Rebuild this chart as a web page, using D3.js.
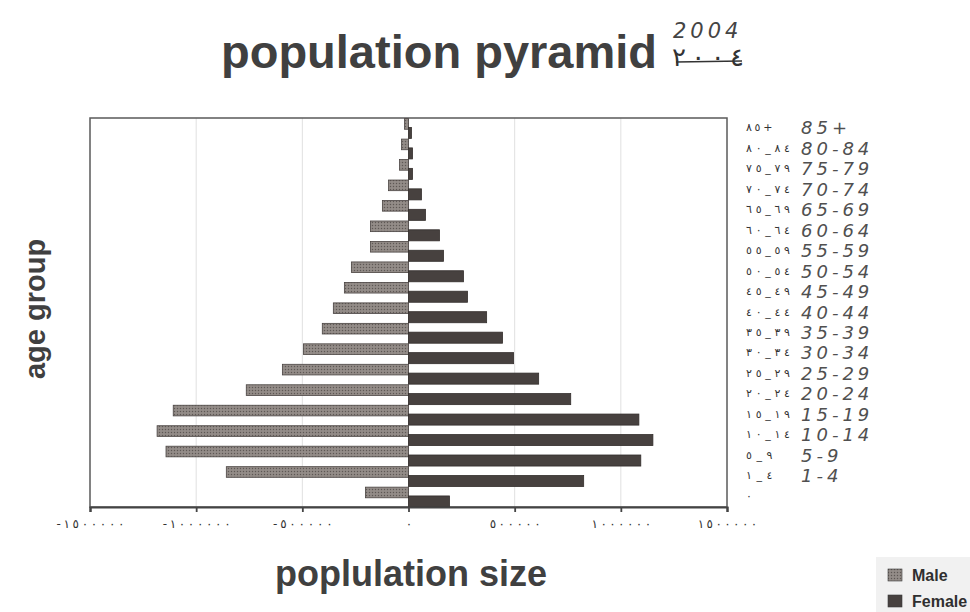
<!DOCTYPE html>
<html>
<head>
<meta charset="utf-8">
<script src="https://cdn.jsdelivr.net/npm/d3@7"></script>
<style>
  body { margin: 0; background: #fff; }
  svg text { font-family: "Liberation Sans", Arial, sans-serif; }
</style>
</head>
<body>
<div id="chart-container"></div>
<script>
// Age groups, bottom to top
const ageGroups = ["0", "1-4", "5-9", "10-14", "15-19", "20-24", "25-29", "30-34", "35-39",
  "40-44", "45-49", "50-54", "55-59", "60-64", "65-69", "70-74", "75-79", "80-84", "85+"];
const ageLabelsAr = ["٠", "١_٤", "٥_٩", "١٠_١٤", "١٥_١٩", "٢٠_٢٤", "٢٥_٢٩", "٣٠_٣٤", "٣٥_٣٩",
  "٤٠_٤٤", "٤٥_٤٩", "٥٠_٥٤", "٥٥_٥٩", "٦٠_٦٤", "٦٥_٦٩", "٧٠_٧٤", "٧٥_٧٩", "٨٠_٨٤", "٨٥+"];
const ageLabelsHand = ["", "1-4", "5-9", "10-14", "15-19", "20-24", "25-29", "30-34", "35-39",
  "40-44", "45-49", "50-54", "55-59", "60-64", "65-69", "70-74", "75-79", "80-84", "85+"];

// Population, 2004
const male = [203000, 858000, 1142000, 1184000, 1108000, 764000, 594000, 495000, 406000,
  354000, 302000, 269000, 179000, 179000, 123000, 94000, 42000, 33000, 19000];
const female = [193000, 825000, 1094000, 1151000, 1085000, 764000, 613000, 495000, 443000,
  368000, 278000, 259000, 165000, 146000, 80000, 61000, 19000, 19000, 14000];

const xTicks = [-1500000, -1000000, -500000, 0, 500000, 1000000, 1500000];
const xTickLabels = ["-١٥٠٠٠٠٠", "-١٠٠٠٠٠٠", "-٥٠٠٠٠٠", "٠", "٥٠٠٠٠٠", "١٠٠٠٠٠٠", "١٥٠٠٠٠٠"];

const W = 970, H = 612;
const plot = { left: 90, right: 727, top: 118, bottom: 507 };

const svg = d3.select("#chart-container")
  .append("svg")
  .attr("width", W)
  .attr("height", H);

svg.append("rect").attr("width", W).attr("height", H).attr("fill", "#fff");

// stipple pattern for male bars
const defs = svg.append("defs");
const pat = defs.append("pattern")
  .attr("id", "stipple")
  .attr("width", 3).attr("height", 3)
  .attr("patternUnits", "userSpaceOnUse");
pat.append("rect").attr("width", 3).attr("height", 3).attr("fill", "#8c8581");
pat.append("rect").attr("width", 1).attr("height", 1).attr("fill", "#5e5855");
pat.append("rect").attr("x", 1.5).attr("y", 1.5).attr("width", 1).attr("height", 1).attr("fill", "#a9a29e");

const xScale = d3.scaleLinear()
  .domain([-1500000, 1500000])
  .range([plot.left, plot.right]);

const yScale = d3.scaleBand()
  .domain(ageGroups)
  .range([plot.bottom, plot.top]);

const band = yScale.bandwidth();

// arabic digits ignore letter-spacing, so spread them with textLength
function spreadArabic(sel, perChar) {
  sel.each(function() {
    const t = d3.select(this);
    const n = [...t.text()].length;
    if (n > 1) t.attr("textLength", n * perChar).attr("lengthAdjust", "spacing");
  });
}

// gridlines
svg.append("g")
  .selectAll("line")
  .data(xTicks.filter(d => Math.abs(d) < 1500000))
  .enter()
  .append("line")
  .attr("x1", d => xScale(d))
  .attr("x2", d => xScale(d))
  .attr("y1", plot.top)
  .attr("y2", plot.bottom)
  .attr("stroke", d => d === 0 ? "#bbb" : "#e0e0e0")
  .attr("stroke-width", 1);

// frame
svg.append("rect")
  .attr("x", plot.left)
  .attr("y", plot.top)
  .attr("width", plot.right - plot.left)
  .attr("height", plot.bottom - plot.top)
  .attr("fill", "none")
  .attr("stroke", "#5a5a5a")
  .attr("stroke-width", 1.5);

// male bars (left)
svg.append("g")
  .selectAll("rect")
  .data(male)
  .enter()
  .append("rect")
  .attr("x", d => xScale(-d))
  .attr("y", (d, i) => yScale(ageGroups[i]) + band * 0.03)
  .attr("width", d => xScale(0) - xScale(-d))
  .attr("height", band * 0.52)
  .attr("fill", "url(#stipple)")
  .attr("stroke", "#4a4442")
  .attr("stroke-width", 0.8);

// female bars (right)
svg.append("g")
  .selectAll("rect")
  .data(female)
  .enter()
  .append("rect")
  .attr("x", xScale(0))
  .attr("y", (d, i) => yScale(ageGroups[i]) + band * 0.46)
  .attr("width", d => xScale(d) - xScale(0))
  .attr("height", band * 0.54)
  .attr("fill", "#47413f")
  .attr("stroke", "#332e2c")
  .attr("stroke-width", 0.8);

// x axis
const xAxis = d3.axisBottom(xScale)
  .tickValues(xTicks)
  .tickSize(5)
  .tickFormat((d, i) => xTickLabels[i]);

const gx = svg.append("g")
  .attr("transform", `translate(0,${plot.bottom})`)
  .call(xAxis);
gx.select(".domain").attr("stroke", "#444").attr("stroke-width", 2.2);
gx.selectAll(".tick line").attr("stroke", "#444").attr("stroke-width", 1.8);
gx.selectAll(".tick text")
  .attr("y", 12)
  .attr("fill", "#333")
  .style("font-family", "'DejaVu Sans', sans-serif")
  .style("font-size", "12px")
  .style("direction", "ltr")
  .style("unicode-bidi", "bidi-override")
  .call(spreadArabic, 8.5);

// right-hand age labels (arabic)
svg.append("g")
  .selectAll("text")
  .data(ageLabelsAr)
  .enter()
  .append("text")
  .attr("x", 746)
  .attr("y", (d, i) => yScale(ageGroups[i]) + band / 2 + 3)
  .attr("fill", "#333")
  .style("font-family", "'DejaVu Sans', sans-serif")
  .style("font-size", "11px")
  .style("direction", "ltr")
  .style("unicode-bidi", "bidi-override")
  .text(d => d)
  .call(spreadArabic, 8.8);

// handwritten english labels
svg.append("g")
  .selectAll("text")
  .data(ageLabelsHand)
  .enter()
  .append("text")
  .attr("x", 801)
  .attr("y", (d, i) => yScale(ageGroups[i]) + band / 2 + 6)
  .attr("fill", "#505050")
  .style("font-family", "'DejaVu Sans', sans-serif")
  .style("font-weight", 300)
  .style("font-style", "italic")
  .style("font-size", "18px")
  .style("letter-spacing", "4px")
  .text(d => d);

// title
svg.append("text")
  .attr("x", 439)
  .attr("y", 68)
  .attr("text-anchor", "middle")
  .attr("fill", "#404040")
  .style("font-size", "47px")
  .style("font-weight", "bold")
  .text("population pyramid");

// year, handwritten in arabic and latin digits
svg.append("text")
  .attr("x", 672)
  .attr("y", 66)
  .attr("fill", "#333")
  .style("font-family", "'DejaVu Sans', sans-serif")
  .style("font-size", "26px")
  .style("direction", "ltr")
  .style("unicode-bidi", "bidi-override")
  .attr("textLength", 72)
  .attr("lengthAdjust", "spacing")
  .text("٢٠٠٤");
svg.append("line")
  .attr("x1", 676).attr("x2", 742)
  .attr("y1", 62).attr("y2", 61)
  .attr("stroke", "#333")
  .attr("stroke-width", 1.4);

svg.append("text")
  .attr("x", 673)
  .attr("y", 38)
  .attr("fill", "#444")
  .style("font-family", "'DejaVu Sans', sans-serif")
  .style("font-weight", 300)
  .style("font-style", "italic")
  .style("font-size", "21px")
  .style("letter-spacing", "4px")
  .text("2004");

// axis titles
svg.append("text")
  .attr("transform", "rotate(-90)")
  .attr("x", -309)
  .attr("y", 45)
  .attr("text-anchor", "middle")
  .attr("fill", "#404040")
  .style("font-size", "29px")
  .style("font-weight", "bold")
  .text("age group");

svg.append("text")
  .attr("x", 411)
  .attr("y", 586)
  .attr("text-anchor", "middle")
  .attr("fill", "#404040")
  .style("font-size", "36px")
  .style("font-weight", "bold")
  .text("poplulation size");

// legend
const legend = svg.append("g").attr("transform", "translate(876,557)");
legend.append("rect")
  .attr("width", 100)
  .attr("height", 58)
  .attr("fill", "#f1f1f1");

const legendItems = [
  { name: "Male", fill: "url(#stipple)" },
  { name: "Female", fill: "#47413f" }
];
legendItems.forEach((item, i) => {
  const row = legend.append("g").attr("transform", `translate(12, ${12 + i * 26})`);
  row.append("rect")
    .attr("width", 14)
    .attr("height", 12)
    .attr("fill", item.fill)
    .attr("stroke", "#3a3a3a")
    .attr("stroke-width", 0.6);
  row.append("text")
    .attr("x", 24)
    .attr("y", 12)
    .attr("fill", "#2f2f2f")
    .style("font-size", "16px")
    .style("font-weight", "bold")
    .text(item.name);
});
</script>
</body>
</html>
